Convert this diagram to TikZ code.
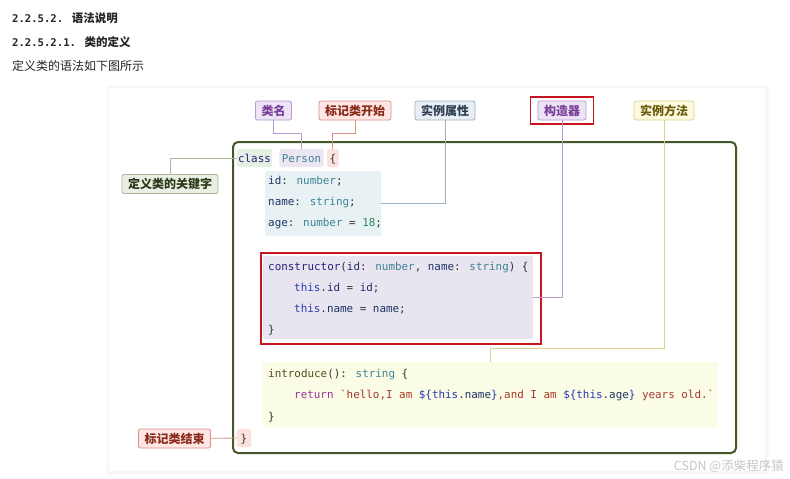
\documentclass[tikz,border=0pt]{standalone}
\usepackage{fontspec}
\newfontfamily\cjk{Noto Sans CJK SC}
\newfontfamily\mono{DejaVu Sans Mono}
\usetikzlibrary{positioning, calc, fit}

\definecolor{frame}{HTML}{44592A}
\definecolor{hlred}{HTML}{C8141E}
\definecolor{purpbg}{HTML}{ECE3F4}\definecolor{purpbd}{HTML}{B89AD0}\definecolor{purptx}{HTML}{7A3F9A}
\definecolor{redbg}{HTML}{FDE6E3}\definecolor{redbd}{HTML}{DD8F86}\definecolor{redtx}{HTML}{8A2A1A}
\definecolor{bluebg}{HTML}{E8EEF4}\definecolor{bluebd}{HTML}{9FB0C0}\definecolor{bluetx}{HTML}{2C3E50}
\definecolor{yelbg}{HTML}{FCFBDD}\definecolor{yelbd}{HTML}{DCD190}\definecolor{yeltx}{HTML}{6A5A10}
\definecolor{grnbg}{HTML}{E9EFE3}\definecolor{grnbd}{HTML}{A8B898}\definecolor{grntx}{HTML}{2A3A1A}
\definecolor{kwbg}{HTML}{E6EFE4}\definecolor{namebg}{HTML}{EBE6F2}\definecolor{markbg}{HTML}{FBE2DF}
\definecolor{fieldbg}{HTML}{E8F2F5}\definecolor{ctorbg}{HTML}{E8E4F0}\definecolor{methbg}{HTML}{FBFCE6}
\definecolor{kwc}{HTML}{23237F}\definecolor{idc}{HTML}{1F3366}\definecolor{typec}{HTML}{3F8296}
\definecolor{numc}{HTML}{2A8A5A}\definecolor{thisc}{HTML}{2A3AB0}\definecolor{fnc}{HTML}{5A4A1A}
\definecolor{retc}{HTML}{A030A0}\definecolor{strc}{HTML}{A33A2A}\definecolor{punc}{HTML}{333333}

\begin{document}
\begin{tikzpicture}[x=1pt, y=-1pt,
  lbl/.style={draw, rounded corners=2pt, line width=0.8pt, inner xsep=6pt, inner ysep=0pt,
    minimum height=19pt, font=\cjk\bfseries\fontsize{12}{14}\selectfont},
  tok/.style={rounded corners=1.5pt, inner xsep=2.5pt, inner ysep=0pt, minimum height=18pt,
    text height=9pt, text depth=1pt, text=punc, font=\mono\fontsize{10.9}{13}\selectfont},
  code/.style={anchor=base west, inner sep=0pt, text=punc, font=\mono\fontsize{10.9}{13}\selectfont},
  pane/.style={rounded corners=2pt, inner sep=0pt},
  head/.style={anchor=west, inner sep=0pt, text=black!85},
  link/.style={line width=0.8pt}]

\useasboundingbox (0,0) rectangle (790,479);
\fill[white] (0,0) rectangle (790,479);

\node[head] (h1) at (12,18) {\mono\bfseries\fontsize{10.6}{12}\selectfont 2.2.5.2. \cjk\bfseries\fontsize{11.5}{12}\selectfont 语法说明};
\node[head] (h2) at (12,42) {\mono\bfseries\fontsize{10.6}{12}\selectfont 2.2.5.2.1. \cjk\bfseries\fontsize{11.5}{12}\selectfont 类的定义};
\node[head, font=\cjk\fontsize{12}{14}\selectfont] (h3) at (12,66) {定义类的语法如下图所示};

% card
\fill[black!2] (106,85) rectangle (769,475);
\fill[black!3] (107,86) rectangle (768,474);
\fill[white] (109,88) rectangle (765,471);

\node[draw=frame, line width=2pt, rounded corners=5pt, inner sep=0pt,
  minimum width=503pt, minimum height=311pt] (frm) at (484.5,297.5) {};

\node[pane, fill=fieldbg, minimum width=116pt, minimum height=65pt] (fields) at (323,203.5) {};
\node[pane, fill=ctorbg, minimum width=270pt, minimum height=83pt] (ctorbox) at (398,297.5) {};
\node[pane, fill=methbg, minimum width=456pt, minimum height=65pt] (meth) at (490,394.5) {};

\node[tok, fill=kwbg, inner xsep=1pt] (cls) at (254.5,158) {\textcolor{kwc}{class}};
\node[tok, fill=namebg, right=7pt of cls] (person) {\textcolor{typec}{Person}};
\node[tok, fill=markbg, right=3pt of person] (lbrace) {\{};
\node[tok, fill=markbg, inner xsep=4pt] (rbrace) at (244,438) {\}};

\node[code] (f1) at (268,184) {\textcolor{idc}{id}: \textcolor{typec}{number};};
\node[code] (f2) at (268,205) {\textcolor{idc}{name}: \textcolor{typec}{string};};
\node[code] (f3) at (268,226) {\textcolor{idc}{age}: \textcolor{typec}{number} = \textcolor{numc}{18};};

\node[code] (c1) at (268,270) {\textcolor{kwc}{constructor}(\textcolor{idc}{id}: \textcolor{typec}{number}, \textcolor{idc}{name}: \textcolor{typec}{string}) \{};
\node[code] (c2) at (294,291) {\textcolor{thisc}{this}.\textcolor{idc}{id} = \textcolor{idc}{id};};
\node[code] (c3) at (294,312) {\textcolor{thisc}{this}.\textcolor{idc}{name} = \textcolor{idc}{name};};
\node[code] (c4) at (268,333) {\}};

\node[code] (m1) at (268,377) {\textcolor{fnc}{introduce}(): \textcolor{typec}{string} \{};
\node[code] (m2) at (294,398) {\textcolor{retc}{return} \textcolor{strc}{`hello,I am }\textcolor{thisc}{\$\{this}\textcolor{idc}{.name}\textcolor{thisc}{\}}\textcolor{strc}{,and I am }\textcolor{thisc}{\$\{this}\textcolor{idc}{.age}\textcolor{thisc}{\}} \textcolor{strc}{years old.`}};
\node[code] (m3) at (268,420) {\}};

\node[draw=hlred, line width=1.6pt, inner sep=0pt, minimum width=280pt, minimum height=91pt] (ctorhl) at (401,298.5) {};

\node[lbl, draw=purpbd, fill=purpbg, text=purptx] (clsname) at (273.5,110.5) {类名};
\node[lbl, draw=redbd, fill=redbg, text=redtx] (openlbl) at (355,110.5) {标记类开始};
\node[lbl, draw=bluebd, fill=bluebg, text=bluetx] (proplbl) at (445,110.5) {实例属性};
\node[lbl, draw=purpbd, fill=purpbg, text=purptx] (ctorlbl) at (562,110.5) {构造器};
\node[draw=hlred, line width=1.6pt, fit=(ctorlbl), inner xsep=7pt, inner ysep=3.5pt] (ctormark) {};
\node[lbl, draw=yelbd, fill=yelbg, text=yeltx] (methlbl) at (664,110.5) {实例方法};
\node[lbl, draw=grnbd, fill=grnbg, text=grntx] (kwlbl) at (170,184) {定义类的关键字};
\node[lbl, draw=redbd, fill=redbg, text=redtx] (endlbl) at (174.5,438.5) {标记类结束};

\draw[link, purpbd] (clsname.south) -- ++(0,13) -| (person.north);
\draw[link, redbd] (openlbl.south) -- ++(0,13) -| (lbrace.north);
\draw[link, bluebd] (proplbl.south) |- (fields.east);
\draw[link, purpbd] (ctorlbl.south) |- (ctorbox.east);
\draw[link, yelbd] (methlbl.south) -- ++(0,228) -| (meth.north);
\draw[link, grnbd] (kwlbl.north) |- (cls.west);
\draw[link, redbd] (endlbl) -- (rbrace);

\node[anchor=east, inner sep=0pt, text=black!22, font=\cjk\fontsize{12.5}{14}\selectfont] (wm) at (784,466) {CSDN @添柴程序猿};
\end{tikzpicture}
\end{document}
